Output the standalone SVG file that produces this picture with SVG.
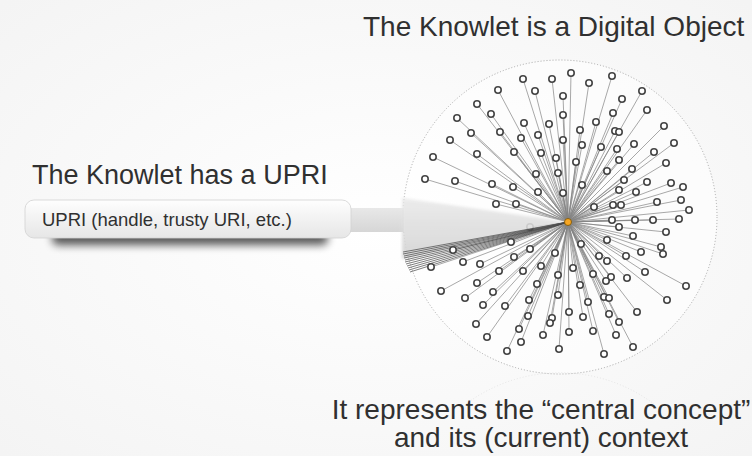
<svg xmlns="http://www.w3.org/2000/svg" width="752" height="456" viewBox="0 0 752 456">
<defs>
<style>
.t{font-family:"Liberation Sans",Arial,sans-serif;fill:#303030}
.n{fill:#fff;stroke:#444;stroke-width:1.6}
.e{stroke:#5a5a5a;stroke-width:0.7;opacity:0.75}
.b{stroke:#333;stroke-width:0.8;opacity:0.8}
</style>
<linearGradient id="boxg" x1="0" y1="0" x2="0" y2="1">
<stop offset="0" stop-color="#fefefe"/><stop offset="1" stop-color="#e6e6e6"/>
</linearGradient>
<linearGradient id="beamg" x1="0" y1="0" x2="0" y2="1">
<stop offset="0" stop-color="#e8e8e8"/><stop offset="1" stop-color="#d6d6d6"/>
</linearGradient>
<linearGradient id="wedgeg" x1="0" y1="0" x2="0" y2="1">
<stop offset="0" stop-color="#e9e9e9"/><stop offset="1" stop-color="#d2d2d2"/>
</linearGradient>
<radialGradient id="bg" cx="0.5" cy="0.5" r="0.7">
<stop offset="0" stop-color="#ffffff"/><stop offset="1" stop-color="#f4f4f4"/>
</radialGradient>
<filter id="blur" x="-20%" y="-100%" width="140%" height="300%"><feGaussianBlur stdDeviation="4"/></filter>
<filter id="soft" x="-10%" y="-20%" width="120%" height="140%"><feGaussianBlur stdDeviation="1.5"/></filter>
</defs>
<rect width="752" height="456" fill="url(#bg)"/>

<!-- knowlet circle -->
<g id="knowlet-boundary">
<circle cx="560" cy="217" r="157" fill="#fff" fill-opacity="0.5" stroke="#a8a8a8" stroke-width="1" stroke-dasharray="1 2"/>
<path d="M 466 404 A 157 157 0 0 1 654 404" fill="none" stroke="#d8d8d8" stroke-width="1" stroke-dasharray="1 2" opacity="0.6"/>
</g>

<!-- connectors -->
<g id="connectors">
<path class="e" d="M568 222L571 73M568 222L552 79M568 222L523 79M568 222L612 76M568 222L589 83M568 222L498 90M568 222L535 91M568 222L563 96M568 222L642 91M568 222L622 99M568 222L477 104M568 222L457 118M568 222L491 114M568 222L563 115M568 222L613 113M568 222L647 110M568 222L596 122M568 222L524 123M568 222L549 124M568 222L471 133M568 222L500 132M568 222L580 130M568 222L615 131M568 222L619 132M568 222L664 126M568 222L450 140M568 222L521 138M568 222L538 135M568 222L563 140M568 222L582 145M568 222L601 147M568 222L617 149M568 222L634 144M568 222L674 143M568 222L433 157M568 222L477 154M568 222L514 152M568 222L541 153M568 222L556 158M568 222L576 162M568 222L619 160M568 222L654 152M568 222L666 163M568 222L425 179M568 222L455 181M568 222L492 184M568 222L536 174M568 222L558 173M568 222L607 171M568 222L632 169M568 222L513 187M568 222L538 192M568 222L563 193M568 222L582 185M568 222L624 180M568 222L647 182M568 222L671 183M568 222L683 187M568 222L636 192M568 222L619 190M568 222L496 204M568 222L516 204M568 222L594 207M568 222L613 205M568 222L621 205M568 222L657 202M568 222L681 200M568 222L689 210M568 222L612 220M568 222L635 220M568 222L653 220M568 222L679 219M568 222L619 227M568 222L666 232M568 222L530 227M568 222L511 242M568 222L581 244M568 222L607 240M568 222L633 236M568 222L453 250M568 222L530 249M568 222L555 253M568 222L661 247M568 222L663 254M568 222L463 262M568 222L480 264M568 222L514 257M568 222L599 256M568 222L607 261M568 222L626 256M568 222L641 252M568 222L431 267M568 222L499 271M568 222L523 271M568 222L541 266M568 222L573 268M568 222L558 275M568 222L593 274M568 222L611 277M568 222L645 272M568 222L686 286M568 222L627 278M568 222L441 291M568 222L477 283M568 222L493 292M568 222L537 284M568 222L580 285M568 222L606 281M568 222L465 298M568 222L558 295M568 222L604 297M568 222L609 298M568 222L667 300M568 222L483 305M568 222L505 306M568 222L529 300M568 222L588 302M568 222L637 312M568 222L552 318M568 222L569 312M568 222L609 314M568 222L528 316M568 222L583 317M568 222L550 323M568 222L476 324M568 222L619 322M568 222L519 329M568 222L593 331M568 222L569 332M568 222L487 337M568 222L543 335M568 222L616 335M568 222L521 342M568 222L507 351M568 222L559 349M568 222L604 354M568 222L633 347"/>
</g>

<!-- partially hidden nodes under the beam -->
<g id="n61"><circle class="n" cx="496" cy="204" r="3.2"/></g>
<g id="n75"><circle class="n" cx="530" cy="227" r="3.2"/></g>

<!-- UPRI beam -->
<g id="beam">
<rect x="348" y="208" width="56" height="24" fill="url(#beamg)"/>
<polygon points="402,198 568,222 402,259" fill="url(#wedgeg)" opacity="0.88" filter="url(#soft)"/>
</g>

<!-- dense bundle to the UPRI -->
<g id="bundle">
<path class="b" d="M568 222L403 252M568 222L403 254M568 222L404 256M568 222L404 258M568 222L405 260M568 222L405 262M568 222L406 264M568 222L407 266M568 222L408 268M568 222L409 270M568 222L410 272"/>
</g>

<!-- nodes -->
<g id="n1"><circle class="n" cx="571" cy="73" r="3.2"/></g>
<g id="n2"><circle class="n" cx="552" cy="79" r="3.2"/></g>
<g id="n3"><circle class="n" cx="523" cy="79" r="3.2"/></g>
<g id="n4"><circle class="n" cx="612" cy="76" r="3.2"/></g>
<g id="n5"><circle class="n" cx="589" cy="83" r="3.2"/></g>
<g id="n6"><circle class="n" cx="498" cy="90" r="3.2"/></g>
<g id="n7"><circle class="n" cx="535" cy="91" r="3.2"/></g>
<g id="n8"><circle class="n" cx="563" cy="96" r="3.2"/></g>
<g id="n9"><circle class="n" cx="642" cy="91" r="3.2"/></g>
<g id="n10"><circle class="n" cx="622" cy="99" r="3.2"/></g>
<g id="n11"><circle class="n" cx="477" cy="104" r="3.2"/></g>
<g id="n12"><circle class="n" cx="457" cy="118" r="3.2"/></g>
<g id="n13"><circle class="n" cx="491" cy="114" r="3.2"/></g>
<g id="n14"><circle class="n" cx="563" cy="115" r="3.2"/></g>
<g id="n15"><circle class="n" cx="613" cy="113" r="3.2"/></g>
<g id="n16"><circle class="n" cx="647" cy="110" r="3.2"/></g>
<g id="n17"><circle class="n" cx="596" cy="122" r="3.2"/></g>
<g id="n18"><circle class="n" cx="524" cy="123" r="3.2"/></g>
<g id="n19"><circle class="n" cx="549" cy="124" r="3.2"/></g>
<g id="n20"><circle class="n" cx="471" cy="133" r="3.2"/></g>
<g id="n21"><circle class="n" cx="500" cy="132" r="3.2"/></g>
<g id="n22"><circle class="n" cx="580" cy="130" r="3.2"/></g>
<g id="n23"><circle class="n" cx="615" cy="131" r="3.2"/></g>
<g id="n24"><circle class="n" cx="619" cy="132" r="3.2"/></g>
<g id="n25"><circle class="n" cx="664" cy="126" r="3.2"/></g>
<g id="n26"><circle class="n" cx="450" cy="140" r="3.2"/></g>
<g id="n27"><circle class="n" cx="521" cy="138" r="3.2"/></g>
<g id="n28"><circle class="n" cx="538" cy="135" r="3.2"/></g>
<g id="n29"><circle class="n" cx="563" cy="140" r="3.2"/></g>
<g id="n30"><circle class="n" cx="582" cy="145" r="3.2"/></g>
<g id="n31"><circle class="n" cx="601" cy="147" r="3.2"/></g>
<g id="n32"><circle class="n" cx="617" cy="149" r="3.2"/></g>
<g id="n33"><circle class="n" cx="634" cy="144" r="3.2"/></g>
<g id="n34"><circle class="n" cx="674" cy="143" r="3.2"/></g>
<g id="n35"><circle class="n" cx="433" cy="157" r="3.2"/></g>
<g id="n36"><circle class="n" cx="477" cy="154" r="3.2"/></g>
<g id="n37"><circle class="n" cx="514" cy="152" r="3.2"/></g>
<g id="n38"><circle class="n" cx="541" cy="153" r="3.2"/></g>
<g id="n39"><circle class="n" cx="556" cy="158" r="3.2"/></g>
<g id="n40"><circle class="n" cx="576" cy="162" r="3.2"/></g>
<g id="n41"><circle class="n" cx="619" cy="160" r="3.2"/></g>
<g id="n42"><circle class="n" cx="654" cy="152" r="3.2"/></g>
<g id="n43"><circle class="n" cx="666" cy="163" r="3.2"/></g>
<g id="n44"><circle class="n" cx="425" cy="179" r="3.2"/></g>
<g id="n45"><circle class="n" cx="455" cy="181" r="3.2"/></g>
<g id="n46"><circle class="n" cx="492" cy="184" r="3.2"/></g>
<g id="n47"><circle class="n" cx="536" cy="174" r="3.2"/></g>
<g id="n48"><circle class="n" cx="558" cy="173" r="3.2"/></g>
<g id="n49"><circle class="n" cx="607" cy="171" r="3.2"/></g>
<g id="n50"><circle class="n" cx="632" cy="169" r="3.2"/></g>
<g id="n51"><circle class="n" cx="513" cy="187" r="3.2"/></g>
<g id="n52"><circle class="n" cx="538" cy="192" r="3.2"/></g>
<g id="n53"><circle class="n" cx="563" cy="193" r="3.2"/></g>
<g id="n54"><circle class="n" cx="582" cy="185" r="3.2"/></g>
<g id="n55"><circle class="n" cx="624" cy="180" r="3.2"/></g>
<g id="n56"><circle class="n" cx="647" cy="182" r="3.2"/></g>
<g id="n57"><circle class="n" cx="671" cy="183" r="3.2"/></g>
<g id="n58"><circle class="n" cx="683" cy="187" r="3.2"/></g>
<g id="n59"><circle class="n" cx="636" cy="192" r="3.2"/></g>
<g id="n60"><circle class="n" cx="619" cy="190" r="3.2"/></g>
<g id="n62"><circle class="n" cx="516" cy="204" r="3.2"/></g>
<g id="n63"><circle class="n" cx="594" cy="207" r="3.2"/></g>
<g id="n64"><circle class="n" cx="613" cy="205" r="3.2"/></g>
<g id="n65"><circle class="n" cx="621" cy="205" r="3.2"/></g>
<g id="n66"><circle class="n" cx="657" cy="202" r="3.2"/></g>
<g id="n67"><circle class="n" cx="681" cy="200" r="3.2"/></g>
<g id="n68"><circle class="n" cx="689" cy="210" r="3.2"/></g>
<g id="n69"><circle class="n" cx="612" cy="220" r="3.2"/></g>
<g id="n70"><circle class="n" cx="635" cy="220" r="3.2"/></g>
<g id="n71"><circle class="n" cx="653" cy="220" r="3.2"/></g>
<g id="n72"><circle class="n" cx="679" cy="219" r="3.2"/></g>
<g id="n73"><circle class="n" cx="619" cy="227" r="3.2"/></g>
<g id="n74"><circle class="n" cx="666" cy="232" r="3.2"/></g>
<g id="n76"><circle class="n" cx="511" cy="242" r="3.2"/></g>
<g id="n77"><circle class="n" cx="581" cy="244" r="3.2"/></g>
<g id="n78"><circle class="n" cx="607" cy="240" r="3.2"/></g>
<g id="n79"><circle class="n" cx="633" cy="236" r="3.2"/></g>
<g id="n80"><circle class="n" cx="453" cy="250" r="3.2"/></g>
<g id="n81"><circle class="n" cx="530" cy="249" r="3.2"/></g>
<g id="n82"><circle class="n" cx="555" cy="253" r="3.2"/></g>
<g id="n83"><circle class="n" cx="661" cy="247" r="3.2"/></g>
<g id="n84"><circle class="n" cx="663" cy="254" r="3.2"/></g>
<g id="n85"><circle class="n" cx="463" cy="262" r="3.2"/></g>
<g id="n86"><circle class="n" cx="480" cy="264" r="3.2"/></g>
<g id="n87"><circle class="n" cx="514" cy="257" r="3.2"/></g>
<g id="n88"><circle class="n" cx="599" cy="256" r="3.2"/></g>
<g id="n89"><circle class="n" cx="607" cy="261" r="3.2"/></g>
<g id="n90"><circle class="n" cx="626" cy="256" r="3.2"/></g>
<g id="n91"><circle class="n" cx="641" cy="252" r="3.2"/></g>
<g id="n92"><circle class="n" cx="431" cy="267" r="3.2"/></g>
<g id="n93"><circle class="n" cx="499" cy="271" r="3.2"/></g>
<g id="n94"><circle class="n" cx="523" cy="271" r="3.2"/></g>
<g id="n95"><circle class="n" cx="541" cy="266" r="3.2"/></g>
<g id="n96"><circle class="n" cx="573" cy="268" r="3.2"/></g>
<g id="n97"><circle class="n" cx="558" cy="275" r="3.2"/></g>
<g id="n98"><circle class="n" cx="593" cy="274" r="3.2"/></g>
<g id="n99"><circle class="n" cx="611" cy="277" r="3.2"/></g>
<g id="n100"><circle class="n" cx="645" cy="272" r="3.2"/></g>
<g id="n101"><circle class="n" cx="686" cy="286" r="3.2"/></g>
<g id="n102"><circle class="n" cx="627" cy="278" r="3.2"/></g>
<g id="n103"><circle class="n" cx="441" cy="291" r="3.2"/></g>
<g id="n104"><circle class="n" cx="477" cy="283" r="3.2"/></g>
<g id="n105"><circle class="n" cx="493" cy="292" r="3.2"/></g>
<g id="n106"><circle class="n" cx="537" cy="284" r="3.2"/></g>
<g id="n107"><circle class="n" cx="580" cy="285" r="3.2"/></g>
<g id="n108"><circle class="n" cx="606" cy="281" r="3.2"/></g>
<g id="n109"><circle class="n" cx="465" cy="298" r="3.2"/></g>
<g id="n110"><circle class="n" cx="558" cy="295" r="3.2"/></g>
<g id="n111"><circle class="n" cx="604" cy="297" r="3.2"/></g>
<g id="n112"><circle class="n" cx="609" cy="298" r="3.2"/></g>
<g id="n113"><circle class="n" cx="667" cy="300" r="3.2"/></g>
<g id="n114"><circle class="n" cx="483" cy="305" r="3.2"/></g>
<g id="n115"><circle class="n" cx="505" cy="306" r="3.2"/></g>
<g id="n116"><circle class="n" cx="529" cy="300" r="3.2"/></g>
<g id="n117"><circle class="n" cx="588" cy="302" r="3.2"/></g>
<g id="n118"><circle class="n" cx="637" cy="312" r="3.2"/></g>
<g id="n119"><circle class="n" cx="552" cy="318" r="3.2"/></g>
<g id="n120"><circle class="n" cx="569" cy="312" r="3.2"/></g>
<g id="n121"><circle class="n" cx="609" cy="314" r="3.2"/></g>
<g id="n122"><circle class="n" cx="528" cy="316" r="3.2"/></g>
<g id="n123"><circle class="n" cx="583" cy="317" r="3.2"/></g>
<g id="n124"><circle class="n" cx="550" cy="323" r="3.2"/></g>
<g id="n125"><circle class="n" cx="476" cy="324" r="3.2"/></g>
<g id="n126"><circle class="n" cx="619" cy="322" r="3.2"/></g>
<g id="n127"><circle class="n" cx="519" cy="329" r="3.2"/></g>
<g id="n128"><circle class="n" cx="593" cy="331" r="3.2"/></g>
<g id="n129"><circle class="n" cx="569" cy="332" r="3.2"/></g>
<g id="n130"><circle class="n" cx="487" cy="337" r="3.2"/></g>
<g id="n131"><circle class="n" cx="543" cy="335" r="3.2"/></g>
<g id="n132"><circle class="n" cx="616" cy="335" r="3.2"/></g>
<g id="n133"><circle class="n" cx="521" cy="342" r="3.2"/></g>
<g id="n134"><circle class="n" cx="507" cy="351" r="3.2"/></g>
<g id="n135"><circle class="n" cx="559" cy="349" r="3.2"/></g>
<g id="n136"><circle class="n" cx="604" cy="354" r="3.2"/></g>
<g id="n137"><circle class="n" cx="633" cy="347" r="3.2"/></g>

<!-- central concept hub -->
<g id="hub"><circle cx="568" cy="222" r="3.5" fill="#f6a623" stroke="#7a5200" stroke-width="0.8"/></g>

<!-- UPRI box -->
<g id="upri-box">
<rect x="52" y="231" width="276" height="14" rx="6" fill="#000" opacity="0.65" filter="url(#blur)"/>
<rect x="25" y="200" width="326" height="38" rx="9" fill="url(#boxg)" stroke="#d2d2d2" stroke-width="0.8"/>
<text class="t" x="42" y="226" font-size="18.5">UPRI (handle, trusty URI, etc.)</text>
</g>

<!-- titles -->
<g id="titles">
<text class="t" x="363" y="36" font-size="28">The Knowlet is a Digital Object</text>
<text class="t" x="32" y="184" font-size="27">The Knowlet has a UPRI</text>
<text class="t" x="541" y="419" font-size="28" text-anchor="middle">It represents the “central concept”</text>
<text class="t" x="541" y="447" font-size="28" text-anchor="middle">and its (current) context</text>
</g>
</svg>
